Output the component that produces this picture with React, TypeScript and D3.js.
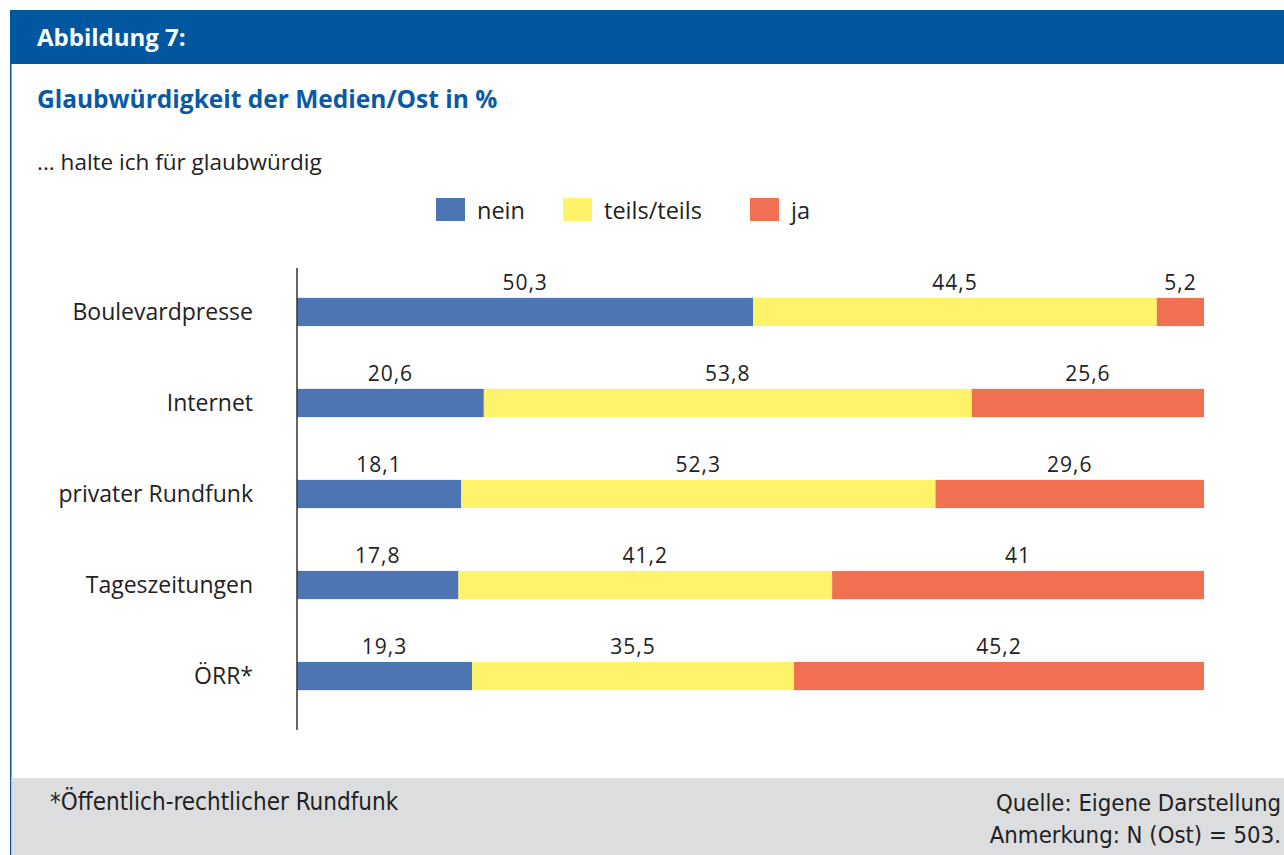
import React from "react";
import * as d3 from "d3";

const categories = ["Boulevardpresse", "Internet", "privater Rundfunk", "Tageszeitungen", "ÖRR*"];
const nein = [50.3, 20.6, 18.1, 17.8, 19.3];
const teils = [44.5, 53.8, 52.3, 41.2, 35.5];
const ja = [5.2, 25.6, 29.6, 41, 45.2];
const seriesNames = ["nein", "teils/teils", "ja"];
const seriesColors = ["#4D75B3", "#FFF36C", "#F07051"];

const W = 1284;
const H = 855;
const font = "'Open Sans', 'Noto Sans', sans-serif";
const narrow = "'DejaVu Sans Condensed', 'Liberation Sans Narrow', sans-serif";

export default function App() {
  const x = d3.scaleLinear().domain([0, 100]).range([297, 1204]);
  const y = d3.scaleBand<string>().domain(categories).range([266, 722]).paddingInner(0.69).paddingOuter(0.35);
  const rows = categories.map((c, i) => ({ c, vals: [nein[i], teils[i], ja[i]] }));
  const stack = d3.stack<any>().keys(["0", "1", "2"]).value((d, k) => d.vals[+k]);
  const stacked = stack(rows);
  const fmt = (v: number) => String(v).replace(".", ",");
  const bh = y.bandwidth();

  return (
    <svg width={W} height={H} style={{ position: "absolute", left: 0, top: 0, display: "block", background: "#fff" }}>
      <rect x={10} y={10} width={W - 10} height={54} fill="#00579F" />
      <rect x={10} y={64} width={1.5} height={H - 64} fill="#00579F" />
      <text x={37} y={46} fill="#fff" fontFamily={font} fontWeight={700} fontSize={24}>Abbildung 7:</text>
      <text x={37} y={108} fill="#0A5AA3" fontFamily={font} fontWeight={700} fontSize={24.5}>Glaubwürdigkeit der Medien/Ost in %</text>
      <text x={37} y={170} fill="#222" fontFamily={font} fontSize={22.5}>... halte ich für glaubwürdig</text>

      {seriesNames.map((s, i) => {
        const lx = [436, 563, 750][i];
        return (
          <g key={s}>
            <rect x={lx} y={198} width={29} height={23} fill={seriesColors[i]} />
            <text x={lx + 41} y={219} fill="#222" fontFamily={font} fontSize={23.5}>{s}</text>
          </g>
        );
      })}

      {stacked.map((layer, si) => (
        <g key={si}>
          {layer.map((d, ci) => {
            const x0 = x(d[0]);
            const x1 = x(d[1]);
            const yy = y(categories[ci])!;
            return (
              <g key={ci}>
                <rect x={x0} y={yy} width={x1 - x0} height={bh} fill={seriesColors[si]} />
                <text x={(x0 + x1) / 2} y={yy - 8} textAnchor="middle" fill="#222" fontFamily={font} fontSize={21} letterSpacing={1}>
                  {fmt(rows[ci].vals[si])}
                </text>
              </g>
            );
          })}
        </g>
      ))}

      {categories.map((c) => (
        <text key={c} x={253} y={y(c)! + bh / 2 + 8} textAnchor="end" fill="#222" fontFamily={font} fontSize={23}>{c}</text>
      ))}
      <line x1={297} x2={297} y1={268} y2={730} stroke="#333" strokeWidth={1.5} />

      <rect x={11.5} y={778} width={W - 11.5} height={H - 778} fill="#DCDDDF" />
      <text x={50} y={810} fill="#222" fontFamily={narrow} fontSize={24}>*Öffentlich-rechtlicher Rundfunk</text>
      <text x={1281} y={811} textAnchor="end" fill="#222" fontFamily={narrow} fontSize={23.7}>Quelle: Eigene Darstellung</text>
      <text x={1281} y={843} textAnchor="end" fill="#222" fontFamily={narrow} fontSize={23.7}>Anmerkung: N (Ost) = 503.</text>
    </svg>
  );
}
